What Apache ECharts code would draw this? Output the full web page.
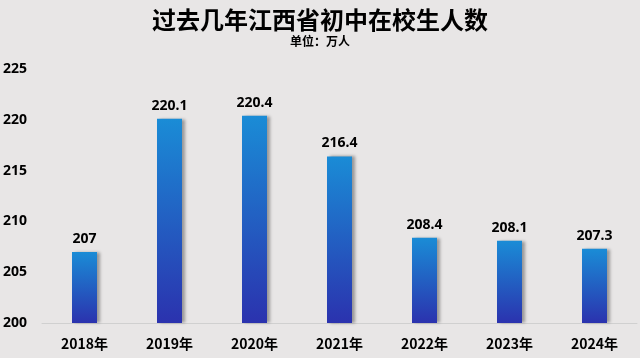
<!DOCTYPE html>
<html><head><meta charset="utf-8">
<script src="https://cdn.jsdelivr.net/npm/echarts@6/dist/echarts.min.js"></script>
<style>html,body{margin:0;padding:0;background:#e8e6e6}#c{width:640px;height:358px}</style>
</head><body><div id="c"></div>
<script>
const categories = ['2018年','2019年','2020年','2021年','2022年','2023年','2024年'];
const values = [207, 220.1, 220.4, 216.4, 208.4, 208.1, 207.3];
const titleText = '过去几年江西省初中在校生人数';
const subText = '单位：万人';

const chart = echarts.init(document.getElementById('c'));
chart.setOption({
  backgroundColor: '#e8e6e6',
  title: {
    text: titleText, subtext: subText, left: 'center', top: 3, itemGap: 3,
    textStyle: {fontSize: 24, fontWeight: 'bold', color: '#000', fontFamily: 'Noto Sans CJK SC'},
    subtextStyle: {fontSize: 12, fontWeight: 'bold', color: '#000', fontFamily: 'Noto Sans CJK SC'}
  },
  grid: {left: 40, right: 3, top: 69, bottom: 35},
  xAxis: {
    type: 'category', data: categories,
    axisLine: {lineStyle: {color: '#d0d0d0'}}, axisTick: {show: false},
    axisLabel: {fontSize: 14, fontWeight: 'bold', color: '#000', margin: 14, fontFamily: 'Noto Sans CJK SC'}
  },
  yAxis: {
    type: 'value', min: 200, max: 225, interval: 5,
    splitLine: {show: false}, axisLine: {show: false}, axisTick: {show: false},
    axisLabel: {fontSize: 14, fontWeight: 'bold', color: '#000', margin: 10, align: 'left', padding: [0,0,0,-29], fontFamily: 'Noto Sans'}
  },
  series: [{
    type: 'bar', data: values, barWidth: 25,
    itemStyle: {
      color: new echarts.graphic.LinearGradient(0,0,0,1,[{offset:0,color:'#1a8cd6'},{offset:1,color:'#2b32ae'}]),
      shadowColor: 'rgba(0,0,0,0.35)', shadowBlur: 3, shadowOffsetX: 3, shadowOffsetY: 0
    },
    label: {show: true, position: 'top', distance: 6, fontSize: 14, fontWeight: 'bold', color: '#000', fontFamily: 'Noto Sans'}
  }]
});
</script></body></html>
